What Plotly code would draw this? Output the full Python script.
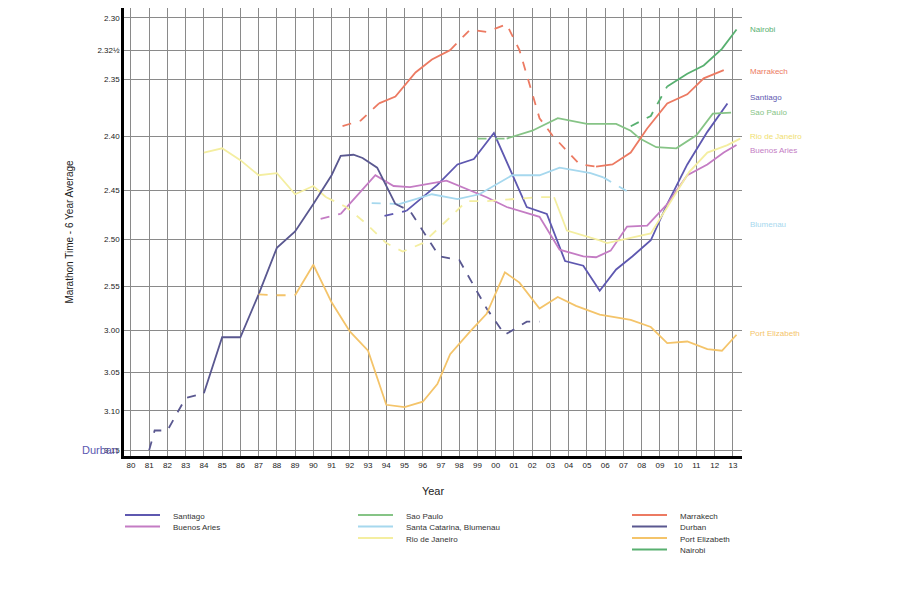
import numpy as np
import plotly.graph_objects as go

# y-axis: marathon time in minutes (h.mm labels), non-uniform printed scale
tick_minutes = [150, 152.5, 155, 160, 165, 170, 175, 180, 185, 190, 195]
tick_labels = ["2.30", "2.32½", "2.35", "2.40", "2.45", "2.50", "2.55", "3.00", "3.05", "3.10", "3.15"]
tick_scale = [10, 43, 73, 131, 186, 236, 284, 329, 372, 411, 451]  # printed scale units
x_ticks = list(range(1980, 2014))
x_tick_labels = [f"{y % 100:02d}" for y in x_ticks]

durban_years = [1981.0, 1981.3, 1982.0, 1983.0, 1984.0, 1985, 1986, 1987, 1988, 1989, 1990, 1991, 1991.5, 1992.2,
                1992.7, 1993.5, 1994.5, 1995.3, 1996.9, 1998.0, 1999.5, 2000.5, 2001.7, 2002.4]
durban_time = [195.5, 192.5, 192.5, 188.3, 187.7, 180.8, 180.8, 175.9, 170.9, 169.2, 166.4, 163.6, 161.8, 161.7,
               162.0, 162.9, 166.4, 167.1, 171.8, 172.2, 177.5, 180.5, 179.0, 179.0]
durban_dash = [(0, 4, True), (4, 16, False), (16, 23, True)]

santiago_years = [1993.9, 1995.1, 1996.8, 1997.9, 1998.8, 1999.9, 2001.7, 2002.8, 2003.8, 2004.8, 2005.7, 2006.6,
                  2007.5, 2008.5, 2009.4, 2010.5, 2011.6, 2012.7]
santiago_time = [167.6, 167.1, 164.5, 162.6, 162.1, 159.7, 166.7, 167.4, 172.3, 172.8, 175.5, 173.2, 171.8, 170.1,
                 166.4, 162.6, 159.6, 157.1]
santiago_dash = [(0, 1, True), (1, 17, False)]

buenos_years = [1990.4, 1991.5, 1993.4, 1994.4, 1995.3, 1997.3, 1999.5, 2000.6, 2002.4, 2003.5, 2004.8, 2005.5,
                2006.3, 2007.2, 2008.3, 2009.4, 2010.5, 2011.6, 2012.5, 2013.2]
buenos_time = [167.9, 167.4, 163.6, 164.6, 164.7, 164.1, 165.7, 166.7, 167.7, 171.1, 171.8, 171.9, 171.2, 168.7,
               168.6, 166.4, 163.6, 162.6, 161.5, 160.8]
buenos_dash = [(0, 1, True), (1, 19, False)]

saopaulo_years = [1999.0, 2000.6, 2002.0, 2003.4, 2005.0, 2006.6, 2007.4, 2007.9, 2008.8, 2009.9, 2011.0, 2011.9, 2012.9]
saopaulo_time = [160.2, 160.2, 159.5, 158.4, 158.9, 158.9, 159.5, 160.2, 161.0, 161.1, 159.9, 158.0, 157.9]
saopaulo_dash = [(0, 1, True), (1, 12, False)]

blumenau_years = [1993.2, 1994.7, 1996.5, 1997.9, 1999.1, 2000.9, 2002.4, 2003.5, 2005.2, 2005.9, 2007.2]
blumenau_time = [166.3, 166.4, 165.4, 165.9, 165.4, 163.6, 163.6, 162.9, 163.4, 163.8, 165.1]
blumenau_dash = [(0, 1, True), (1, 9, False), (9, 10, True)]

rio_years = [1984.0, 1985.0, 1986.0, 1987.0, 1988.0, 1989.0, 1990.0, 1990.7, 1991.8, 1992.9, 1994.0, 1994.9,
             1996.0, 1997.3, 1998.4, 1999.5, 2002.3, 2003.2, 2003.9, 2005.7, 2006.1, 2008.5, 2010.6, 2011.6,
             2012.7, 2013.4]
rio_time = [161.5, 161.1, 162.2, 163.6, 163.4, 165.4, 164.6, 165.7, 166.7, 168.4, 170.4, 171.3, 170.4, 168.1,
            166.1, 166.1, 165.7, 165.7, 169.1, 170.1, 170.4, 169.4, 163.3, 161.5, 160.8, 160.2]
rio_dash = [(0, 7, False), (7, 17, True), (17, 25, False)]

marrakech_years = [1991.6, 1992.6, 1993.6, 1994.5, 1995.6, 1996.5, 1997.5, 1998.6, 1999.5, 2000.6, 2001.3, 2002.4,
                   2003.1, 2004.6, 2005.5, 2006.4, 2007.4, 2008.3, 2009.4, 2010.5, 2011.4, 2012.5]
marrakech_time = [159.1, 158.6, 157.1, 156.5, 154.4, 153.3, 152.5, 150.9, 151.1, 150.5, 152.5, 158.4, 159.9,
                  162.6, 162.8, 162.6, 161.5, 159.3, 157.1, 156.3, 154.9, 154.2]
marrakech_dash = [(0, 2, True), (2, 6, False), (6, 14, True), (14, 21, False)]

pe_years = [1987.0, 1988.0, 1989.0, 1990.0, 1991.0, 1992.0, 1993.0, 1994.0, 1995.0, 1996.0, 1996.8, 1997.5, 1998.6,
            1999.5, 2000.5, 2001.3, 2002.4, 2003.4, 2004.4, 2005.7, 2007.4, 2008.5, 2009.4, 2010.5, 2011.6, 2012.4,
            2013.2]
pe_time = [175.9, 176.0, 176.0, 172.7, 176.8, 180.1, 182.4, 189.2, 189.5, 188.8, 186.5, 182.8, 180.1, 178.1, 173.5,
           174.6, 177.5, 176.2, 177.2, 178.2, 178.8, 179.6, 181.5, 181.3, 182.2, 182.4, 180.5]
pe_dash = [(0, 2, True), (2, 26, False)]

nairobi_years = [2007.4, 2008.5, 2009.4, 2010.5, 2011.4, 2012.4, 2013.2]
nairobi_time = [159.1, 158.2, 155.6, 154.5, 153.8, 152.4, 150.9]
nairobi_dash = [(0, 2, True), (2, 6, False)]

series = [
    ("Santiago", santiago_years, santiago_time, santiago_dash, "#5e58b0"),
    ("Buenos Aries", buenos_years, buenos_time, buenos_dash, "#c47cc4"),
    ("Sao Paulo", saopaulo_years, saopaulo_time, saopaulo_dash, "#86c486"),
    ("Santa Catarina, Blumenau", blumenau_years, blumenau_time, blumenau_dash, "#a6d8ee"),
    ("Rio de Janeiro", rio_years, rio_time, rio_dash, "#f4eea0"),
    ("Marrakech", marrakech_years, marrakech_time, marrakech_dash, "#ec7a62"),
    ("Durban", durban_years, durban_time, durban_dash, "#5a5890"),
    ("Port Elizabeth", pe_years, pe_time, pe_dash, "#f4c46a"),
    ("Nairobi", nairobi_years, nairobi_time, nairobi_dash, "#58b070"),
]


def yscale(m):
    return np.interp(m, tick_minutes, tick_scale)


fig = go.Figure()
for name, yrs, tm, segs, col in series:
    x = np.array(yrs) - 1980
    y = yscale(np.array(tm))
    for a, b, dashed in segs:
        fig.add_trace(go.Scatter(x=x[a:b + 1], y=y[a:b + 1], mode="lines", showlegend=False,
                                 line=dict(color=col, width=1.8, dash="dash" if dashed else "solid"),
                                 hoverinfo="skip"))

# right-hand labels
right_labels = [("Nairobi", 150.9, "#58b070"), ("Marrakech", 154.3, "#ec7a62"), ("Santiago", 156.6, "#5e58b0"),
                ("Sao Paulo", 157.9, "#86c486"), ("Rio de Janeiro", 160.0, "#f0e070"),
                ("Buenos Aries", 161.3, "#c47cc4"), ("Blumenau", 168.5, "#a6d8ee"),
                ("Port Elizabeth", 180.4, "#f4c46a")]
for t, m, c in right_labels:
    fig.add_annotation(x=1, xref="paper", y=float(yscale(m)), yref="y", text=t, showarrow=False,
                       xanchor="left", xshift=6, font=dict(size=8, color=c))

fig.add_annotation(x=0, xref="paper", y=float(yscale(195.9)), yref="y", yanchor="middle", text="Durban",
                   showarrow=False, xanchor="right", xshift=-4, font=dict(size=11, color="#5a58b0"))

# legend (drawn manually, three columns)
PH = 448.0
legend_cols = [[0, 1], [2, 3, 4], [5, 6, 7, 8]]
col_x = [125, 358, 632]
for ci, idxs in enumerate(legend_cols):
    for ri, si in enumerate(idxs):
        name, _, _, _, col = series[si]
        yy = 507 + ri * 11.5 - PH
        fig.add_shape(type="line", xref="paper", yref="paper",
                      x0=(col_x[ci] - 124) / 618, x1=(col_x[ci] + 35 - 124) / 618,
                      y0=-yy / PH, y1=-yy / PH, line=dict(color=col, width=1.8))
        fig.add_annotation(xref="paper", yref="paper", x=(col_x[ci] + 46 - 124) / 618, y=-yy / PH,
                           yanchor="middle", yshift=-1,
                           text=name, showarrow=False, xanchor="left", font=dict(size=8, color="#333"))

fig.update_layout(
    width=892, height=607, margin=dict(l=116, r=158, t=0, b=159),
    paper_bgcolor="white", plot_bgcolor="white",
    font=dict(family="Liberation Sans, Arial", color="#222"),
    xaxis=dict(range=[-0.38, 33.5], tickvals=[y - 1980 for y in x_ticks], ticktext=x_tick_labels,
               tickfont=dict(size=8), showgrid=True, gridcolor="#8a8a8a", gridwidth=1.2, zeroline=False,
               showline=True, linecolor="black", linewidth=2.5, ticks="",
               title=dict(text="Year", font=dict(size=11), standoff=18)),
    yaxis=dict(range=[457, 0], tickvals=tick_scale, ticktext=tick_labels, tickfont=dict(size=8),
               showgrid=True, gridcolor="#8a8a8a", gridwidth=1.2, zeroline=False,
               showline=True, linecolor="black", linewidth=2.5, ticks="",
               title=dict(text="Marathon Time - 6 Year Average", font=dict(size=10), standoff=22)),
)
fig.write_html("out.html")
